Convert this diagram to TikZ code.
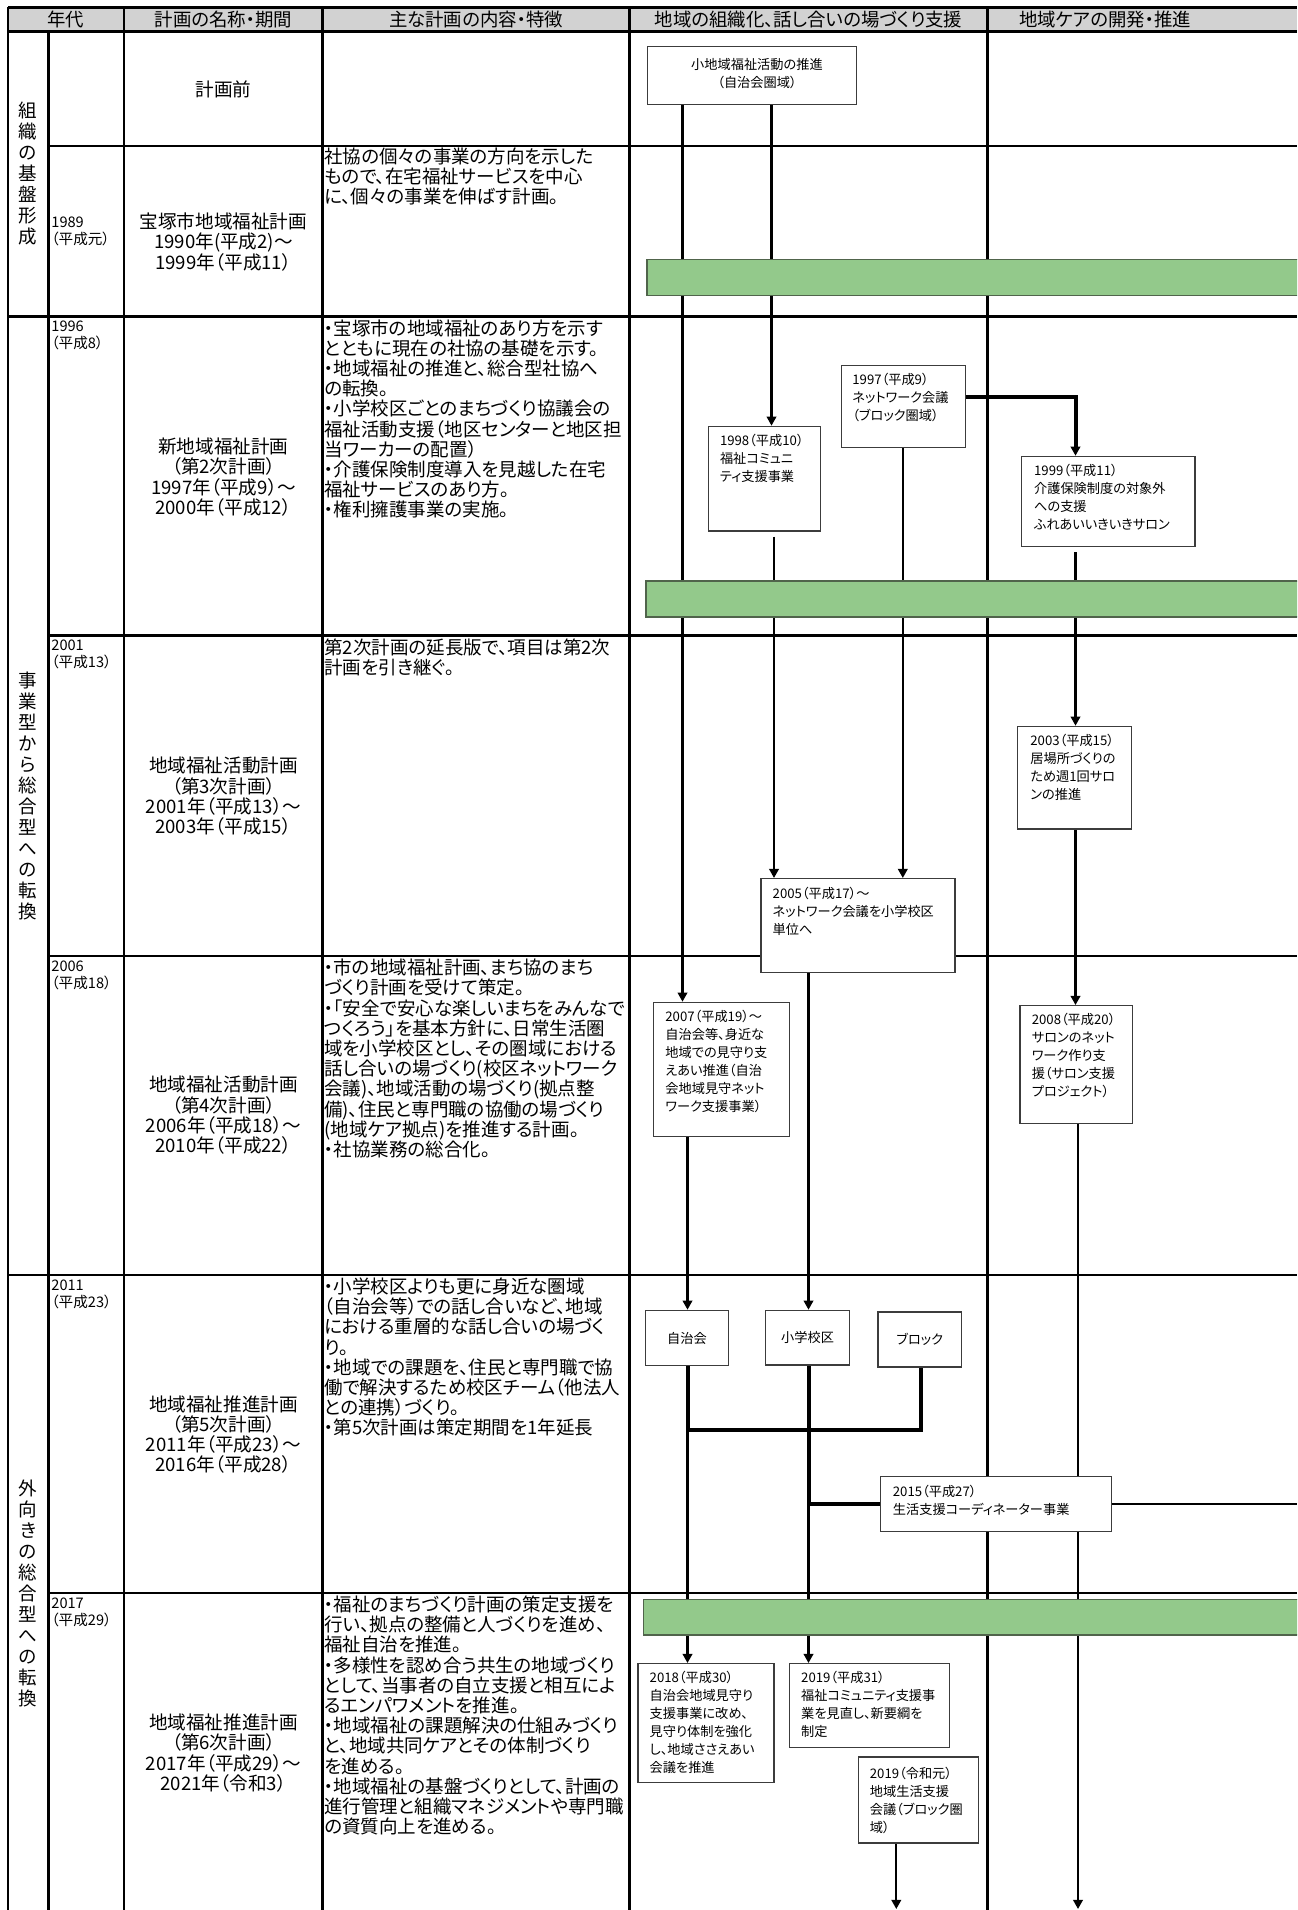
\documentclass[tikz,border=0pt]{standalone}
\usepackage{fontspec}
\setmainfont{Noto Sans CJK JP}[RawFeature={+palt}]
\usetikzlibrary{arrows.meta,calc}
\definecolor{hdr}{RGB}{210,210,210}
\definecolor{barg}{RGB}{147,201,139}
\definecolor{barb}{RGB}{80,100,75}
\definecolor{boxb}{RGB}{60,60,60}
\begin{document}
\begin{tikzpicture}[x=0.5pt,y=-0.5pt,
  gridl/.style={line width=1.4pt},
  conn/.style={line width=1.1pt},
  thickc/.style={line width=2pt},
  arr/.style={-{Triangle[length=4.6pt,width=4.8pt]}},
  tbox/.style={draw=boxb,line width=0.65pt,fill=white,inner sep=0pt},
  btext/.style={inner sep=0pt,anchor=north west,align=left,font=\fontsize{6.6pt}{9pt}\selectfont},
  ctext/.style={inner sep=0pt,anchor=north west,align=left,font=\fontsize{9.25pt}{10.1pt}\selectfont},
  ntext/.style={inner sep=0pt,align=center,font=\fontsize{9.3pt}{10.15pt}\selectfont},
  ytext/.style={inner sep=0pt,align=left,font=\fontsize{7.3pt}{8.5pt}\selectfont},
  etext/.style={inner sep=0pt,align=center,font=\fontsize{9.25pt}{10.5pt}\selectfont},
  htext/.style={inner sep=0pt,font=\fontsize{9.2pt}{10pt}\selectfont},
  gbar/.style={fill=barg,draw=barb,line width=0.6pt}
]
\clip (0,0) rectangle (1297,1910);
\fill[white] (0,0) rectangle (1297,1910);
% ---------- table grid ----------
\fill[hdr] (8,7.3) rectangle (1297,31.7);
\draw[gridl] (8,7.3) -- (1297,7.3);
\draw[gridl] (8,31.7) -- (1297,31.7);
\draw[gridl] (8,7.3) -- (8,1910);
\draw[gridl] (48.5,31.7) -- (48.5,1910);
\draw[gridl] (124,7.3) -- (124,1910);
\draw[gridl] (322.7,7.3) -- (322.7,1910);
\draw[gridl] (629.6,7.3) -- (629.6,1910);
\draw[gridl] (987.6,7.3) -- (987.6,1910);
\draw[gridl] (48.5,146) -- (1297,146);
\draw[gridl] (8,316.6) -- (1297,316.6);
\draw[gridl] (48.5,635.7) -- (1297,635.7);
\draw[gridl] (48.5,956) -- (1297,956);
\draw[gridl] (8,1275) -- (1297,1275);
\draw[gridl] (48.5,1593) -- (1297,1593);
% ---------- header ----------
\node[htext] (h1) at (66,19.5) {年代};
\node[htext] (h2) at (223.4,19.5) {計画の名称・期間};
\node[htext] (h3) at (476,19.5) {主な計画の内容・特徴};
\node[htext] (h4) at (808.6,19.5) {地域の組織化、話し合いの場づくり支援};
\node[htext,anchor=west] (h5) at (1019,19.5) {地域ケアの開発・推進};
% ---------- era column ----------
\node[etext] (e1) at (28,174) {組\\織\\の\\基\\盤\\形\\成};
\node[etext] (e2) at (28,796) {事\\業\\型\\か\\ら\\総\\合\\型\\へ\\の\\転\\換};
\node[etext] (e3) at (28,1593) {外\\向\\き\\の\\総\\合\\型\\へ\\の\\転\\換};
% ---------- year column ----------
\node[ytext,anchor=west] (y1) at (51,231) {1989\\（平成元）};
\node[ytext,anchor=north west] (y2) at (51,320.5) {1996\\（平成8）};
\node[ytext,anchor=north west] (y3) at (51,639.5) {2001\\（平成13）};
\node[ytext,anchor=north west] (y4) at (51,960) {2006\\（平成18）};
\node[ytext,anchor=north west] (y5) at (51,1279) {2011\\（平成23）};
\node[ytext,anchor=north west] (y6) at (51,1597) {2017\\（平成29）};
% ---------- plan names ----------
\node[ntext] (n0) at (223.4,89) {計画前};
\node[ntext] (n1) at (223.4,242) {宝塚市地域福祉計画\\1990年(平成2)～\\1999年（平成11）};
\node[ntext] (n2) at (223.4,477) {新地域福祉計画\\（第2次計画）\\1997年（平成9）～\\2000年（平成12）};
\node[ntext] (n3) at (223.4,796.5) {地域福祉活動計画\\（第3次計画）\\2001年（平成13）～\\2003年（平成15）};
\node[ntext] (n4) at (223.4,1115.5) {地域福祉活動計画\\（第4次計画）\\2006年（平成18）～\\2010年（平成22）};
\node[ntext] (n5) at (223.4,1434.5) {地域福祉推進計画\\（第5次計画）\\2011年（平成23）～\\2016年（平成28）};
\node[ntext] (n6) at (223.4,1753) {地域福祉推進計画\\（第6次計画）\\2017年（平成29）～\\2021年（令和3）};
% ---------- contents ----------
\node[ctext] (c1) at (324,147.5) {社協の個々の事業の方向を示した\\もので、在宅福祉サービスを中心\\に、個々の事業を伸ばす計画。};
\node[ctext] (c2) at (324,319) {・宝塚市の地域福祉のあり方を示す\\とともに現在の社協の基礎を示す。\\・地域福祉の推進と、総合型社協へ\\の転換。\\・小学校区ごとのまちづくり協議会の\\福祉活動支援（地区センターと地区担\\当ワーカーの配置）\\・介護保険制度導入を見越した在宅\\福祉サービスのあり方。\\・権利擁護事業の実施。};
\node[ctext] (c3) at (324,638.5) {第2次計画の延長版で、項目は第2次\\計画を引き継ぐ。};
\node[ctext] (c4) at (324,958.7) {・市の地域福祉計画、まち協のまち\\づくり計画を受けて策定。\\・「安全で安心な楽しいまちをみんなで\\つくろう」を基本方針に、日常生活圏\\域を小学校区とし、その圏域における\\話し合いの場づくり(校区ネットワーク\\会議)、地域活動の場づくり(拠点整\\備)、住民と専門職の協働の場づくり\\(地域ケア拠点)を推進する計画。\\・社協業務の総合化。};
\node[ctext] (c5) at (324,1277.5) {・小学校区よりも更に身近な圏域\\（自治会等）での話し合いなど、地域\\における重層的な話し合いの場づく\\り。\\・地域での課題を、住民と専門職で協\\働で解決するため校区チーム（他法人\\との連携）づくり。\\・第5次計画は策定期間を1年延長};
\node[ctext] (c6) at (324,1595.5) {・福祉のまちづくり計画の策定支援を\\行い、拠点の整備と人づくりを進め、\\福祉自治を推進。\\・多様性を認め合う共生の地域づくり\\として、当事者の自立支援と相互によ\\るエンパワメントを推進。\\・地域福祉の課題解決の仕組みづくり\\と、地域共同ケアとその体制づくり\\を進める。\\・地域福祉の基盤づくりとして、計画の\\進行管理と組織マネジメントや専門職\\の資質向上を進める。};
% ---------- line positions ----------
\coordinate (L1) at (682.5,0);
\coordinate (L2) at (771.5,0);
\coordinate (L3) at (774,0);
\coordinate (L4) at (902.8,0);
\coordinate (L5) at (1075.5,0);
\coordinate (L6) at (1078,0);
\coordinate (L7) at (687.5,0);
\coordinate (L8) at (808.5,0);
\coordinate (L9) at (896.3,0);
\coordinate (L10) at (921.4,0);
\coordinate (E1) at (0,396.7);
\coordinate (J1) at (0,1430);
\coordinate (R) at (1297,0);
\coordinate (B6) at (1078,1909);
\coordinate (B9) at (896.3,1909);
% ---------- box geometry (so connectors can refer) ----------
\path node[tbox,anchor=north west,minimum width=209*0.5pt,minimum height=58*0.5pt] (small) at (646.8,45.7) {};
\path node[tbox,anchor=north west,minimum width=112.3*0.5pt,minimum height=104.6*0.5pt] (b1998) at (707.6,425.7) {};
\path node[tbox,anchor=north west,minimum width=124*0.5pt,minimum height=81.7*0.5pt] (b1997) at (841,365) {};
\path node[tbox,anchor=north west,minimum width=173.6*0.5pt,minimum height=90.3*0.5pt] (b1999) at (1020.7,455.7) {};
\path node[tbox,anchor=north west,minimum width=114*0.5pt,minimum height=102.6*0.5pt] (b2003) at (1017,725.7) {};
\path node[tbox,anchor=north west,minimum width=194*0.5pt,minimum height=93.7*0.5pt] (b2005) at (760.3,878) {};
\path node[tbox,anchor=north west,minimum width=136*0.5pt,minimum height=134*0.5pt] (b2007) at (653,1001.7) {};
\path node[tbox,anchor=north west,minimum width=112.6*0.5pt,minimum height=117.7*0.5pt] (b2008) at (1019.4,1005) {};
\path node[tbox,anchor=north west,minimum width=83.4*0.5pt,minimum height=55.3*0.5pt] (bjichi) at (644.6,1309.7) {};
\path node[tbox,anchor=north west,minimum width=83.8*0.5pt,minimum height=54.6*0.5pt] (bshou) at (765,1309.7) {};
\path node[tbox,anchor=north west,minimum width=83.7*0.5pt,minimum height=55*0.5pt] (bblock) at (877.3,1311.3) {};
\path node[tbox,anchor=north west,minimum width=231.5*0.5pt,minimum height=55*0.5pt] (b2015) at (879.5,1476) {};
\path node[tbox,anchor=north west,minimum width=136*0.5pt,minimum height=118.7*0.5pt] (b2018) at (637.3,1663) {};
\path node[tbox,anchor=north west,minimum width=160.2*0.5pt,minimum height=84*0.5pt] (b2019a) at (788.8,1663) {};
\path node[tbox,anchor=north west,minimum width=120*0.5pt,minimum height=86*0.5pt] (b2019b) at (857.5,1756.3) {};
% ---------- connectors ----------
\draw[conn,arr] (small.south -| L1) -- (b2007.north -| L1);
\draw[conn,arr] (small.south -| L2) -- (b1998.north -| L2);
\draw[conn,arr] ($(b1998.south -| L3)+(0,5)$) -- (b2005.north -| L3);
\draw[thickc,arr] (b1997.east |- E1) -| (b1999.north -| L5);
\draw[conn,arr] (b1997.south -| L4) -- (b2005.north -| L4);
\draw[conn,arr] ($(b1999.south -| L5)+(0,5)$) -- (b2003.north -| L5);
\draw[conn,arr] (b2003.south -| L5) -- (b2008.north -| L5);
\draw[conn,arr] (b2008.south -| L6) -- (B6);
\draw[conn,arr] (b2007.south -| L7) -- (bjichi.north -| L7);
\draw[conn,arr] (b2005.south -| L8) -- (bshou.north -| L8);
\draw[conn,arr] (bjichi.south -| L7) -- (b2018.north -| L7);
\draw[conn,arr] (bshou.south -| L8) -- (b2019a.north -| L8);
\draw[thickc] (bjichi.south -| L7) -- (L7 |- J1) -- (L10 |- J1) -- (bblock.south -| L10);
\draw[thickc] (bshou.south -| L8) |- (b2015.west);
\draw[conn] (b2015.east) -- (b2015.east -| R);
\draw[conn,arr] (b2019b.south -| L9) -- (B9);
% ---------- green bars ----------
\draw[gbar] (1300,259.3) -- (647,259.3) -- (647,295.3) -- (1300,295.3);
\draw[gbar] (1300,581) -- (646,581) -- (646,617) -- (1300,617);
\draw[gbar] (1300,1599.3) -- (643.7,1599.3) -- (643.7,1635) -- (1300,1635);
% ---------- boxes drawn on top ----------
\node[tbox,anchor=north west,minimum width=209*0.5pt,minimum height=58*0.5pt] (smallf) at (small.north west) {};
\node[btext,anchor=center,align=center] (smallt) at (757,74) {小地域福祉活動の推進\\（自治会圏域）};
\node[tbox,anchor=north west,minimum width=112.3*0.5pt,minimum height=104.6*0.5pt] (b1998f) at (b1998.north west) {};
\node[btext] (b1998t) at ($(b1998.north west)+(12,8)$) {1998（平成10）\\福祉コミュニ\\ティ支援事業};
\node[tbox,anchor=north west,minimum width=124*0.5pt,minimum height=81.7*0.5pt] (b1997f) at (b1997.north west) {};
\node[btext] (b1997t) at ($(b1997.north west)+(11,8)$) {1997（平成9）\\ネットワーク会議\\（ブロック圏域）};
\node[tbox,anchor=north west,minimum width=173.6*0.5pt,minimum height=90.3*0.5pt] (b1999f) at (b1999.north west) {};
\node[btext] (b1999t) at ($(b1999.north west)+(13,8)$) {1999（平成11）\\介護保険制度の対象外\\への支援\\ふれあいいきいきサロン};
\node[tbox,anchor=north west,minimum width=114*0.5pt,minimum height=102.6*0.5pt] (b2003f) at (b2003.north west) {};
\node[btext] (b2003t) at ($(b2003.north west)+(13,8)$) {2003（平成15）\\居場所づくりの\\ため週1回サロ\\ンの推進};
\node[tbox,anchor=north west,minimum width=194*0.5pt,minimum height=93.7*0.5pt] (b2005f) at (b2005.north west) {};
\node[btext] (b2005t) at ($(b2005.north west)+(12,8.5)$) {2005（平成17）～\\ネットワーク会議を小学校区\\単位へ};
\node[tbox,anchor=north west,minimum width=136*0.5pt,minimum height=134*0.5pt] (b2007f) at (b2007.north west) {};
\node[btext] (b2007t) at ($(b2007.north west)+(12,8)$) {2007（平成19）～\\自治会等、身近な\\地域での見守り支\\えあい推進（自治\\会地域見守ネット\\ワーク支援事業）};
\node[tbox,anchor=north west,minimum width=112.6*0.5pt,minimum height=117.7*0.5pt] (b2008f) at (b2008.north west) {};
\node[btext] (b2008t) at ($(b2008.north west)+(12,8)$) {2008（平成20）\\サロンのネット\\ワーク作り支\\援（サロン支援\\プロジェクト）};
\node[tbox,anchor=north west,minimum width=83.4*0.5pt,minimum height=55.3*0.5pt,font=\fontsize{6.6pt}{9pt}\selectfont] (bjichif) at (bjichi.north west) {自治会};
\node[tbox,anchor=north west,minimum width=83.8*0.5pt,minimum height=54.6*0.5pt,font=\fontsize{6.6pt}{9pt}\selectfont] (bshouf) at (bshou.north west) {小学校区};
\node[tbox,anchor=north west,minimum width=83.7*0.5pt,minimum height=55*0.5pt,font=\fontsize{6.6pt}{9pt}\selectfont] (bblockf) at (bblock.north west) {ブロック};
\node[tbox,anchor=north west,minimum width=231.5*0.5pt,minimum height=55*0.5pt] (b2015f) at (b2015.north west) {};
\node[btext] (b2015t) at ($(b2015.north west)+(13,9)$) {2015（平成27）\\生活支援コーディネーター事業};
\node[tbox,anchor=north west,minimum width=136*0.5pt,minimum height=118.7*0.5pt] (b2018f) at (b2018.north west) {};
\node[btext] (b2018t) at ($(b2018.north west)+(12,8)$) {2018（平成30）\\自治会地域見守り\\支援事業に改め、\\見守り体制を強化\\し、地域ささえあい\\会議を推進};
\node[tbox,anchor=north west,minimum width=160.2*0.5pt,minimum height=84*0.5pt] (b2019af) at (b2019a.north west) {};
\node[btext] (b2019at) at ($(b2019a.north west)+(12,8)$) {2019（平成31）\\福祉コミュニティ支援事\\業を見直し、新要綱を\\制定};
\node[tbox,anchor=north west,minimum width=120*0.5pt,minimum height=86*0.5pt] (b2019bf) at (b2019b.north west) {};
\node[btext] (b2019bt) at ($(b2019b.north west)+(12,10)$) {2019（令和元）\\地域生活支援\\会議（ブロック圏\\域）};
\end{tikzpicture}
\end{document}
